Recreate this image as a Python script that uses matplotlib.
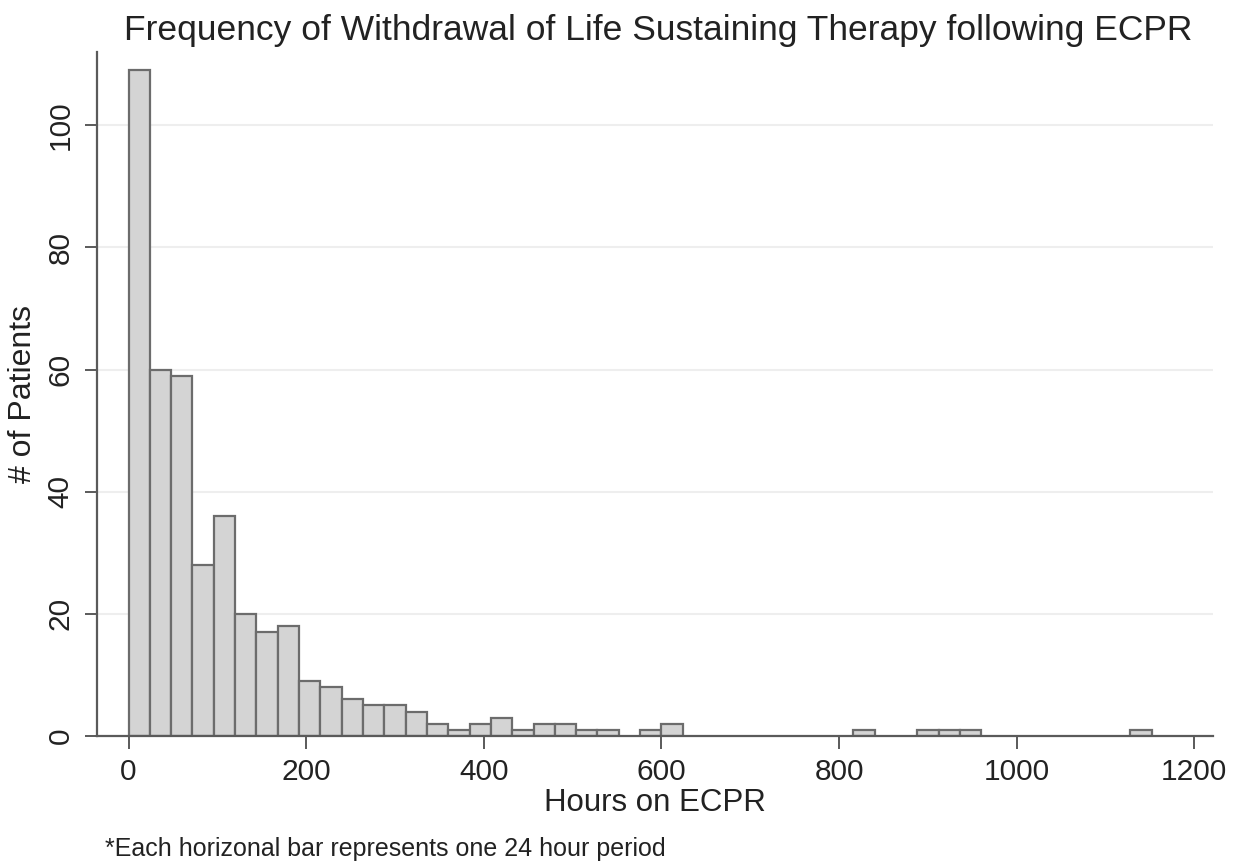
import numpy as np
import matplotlib.pyplot as plt

plt.rcParams['font.family'] = ['Liberation Sans', 'DejaVu Sans']

# 24-hour bins: start hour of each bin and number of patients in it
bin_width = 24
bin_start = [0, 24, 48, 72, 96, 120, 144, 168, 192, 216, 240, 264, 288, 312,
             336, 360, 384, 408, 432, 456, 480, 504, 528, 576, 600,
             816, 888, 912, 936, 1128]
counts = [109, 60, 59, 28, 36, 20, 17, 18, 9, 8, 6, 5, 5, 4,
          2, 1, 2, 3, 1, 2, 2, 1, 1, 1, 2,
          1, 1, 1, 1, 1]

x_ticks = [0, 200, 400, 600, 800, 1000, 1200]
y_ticks = [0, 20, 40, 60, 80, 100]

text_col = '#222222'
axis_col = '#5a5a5a'

fig = plt.figure(figsize=(12.47, 8.65), dpi=100)
ax = fig.add_axes([0.0778, 0.1491, 0.8949, 0.7908])

# light horizontal grid
for y in y_ticks[1:]:
    ax.axhline(y, color='#eeeeee', lw=1.5, zorder=0)

ax.bar(bin_start, counts, width=bin_width, align='edge',
       color='#d4d4d4', edgecolor='#6c6c6c', linewidth=1.6, zorder=2)

ax.set_xlim(-35.5, 1221)
ax.set_ylim(0, 112)
ax.set_xticks(x_ticks)
ax.set_yticks(y_ticks)

for side in ['top', 'right']:
    ax.spines[side].set_visible(False)
for side in ['left', 'bottom']:
    ax.spines[side].set_color(axis_col)
    ax.spines[side].set_linewidth(1.6)

ax.tick_params(axis='both', length=9, width=1.4, color=axis_col,
               labelsize=21.5, labelcolor=text_col, pad=7)
for lab in ax.get_yticklabels():
    lab.set_rotation(90)
    lab.set_va('center')

ax.set_xlabel('Hours on ECPR', fontsize=22.5, color=text_col, labelpad=1)
ax.set_ylabel('# of Patients', fontsize=23, color=text_col, labelpad=6)

fig.text(0.528, 0.965, 'Frequency of Withdrawal of Life Sustaining Therapy following ECPR',
         ha='center', va='center', fontsize=25.5, color=text_col)
fig.text(0.084, 0.019, '*Each horizonal bar represents one 24 hour period',
         ha='left', va='center', fontsize=18, color=text_col)

plt.savefig('out.png', dpi=100)
plt.close()
